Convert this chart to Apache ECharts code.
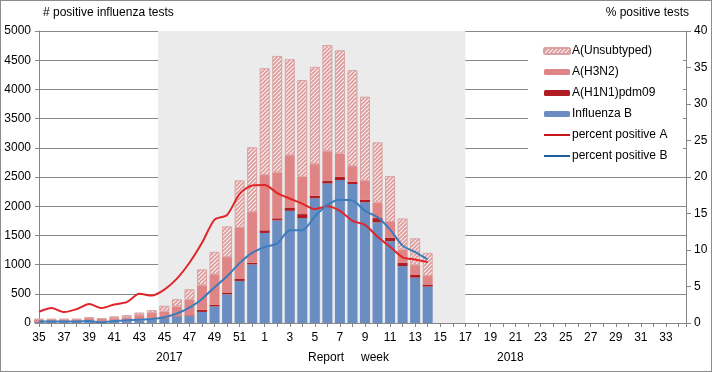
<!DOCTYPE html>
<html><head><meta charset="utf-8">
<script src="https://cdn.jsdelivr.net/npm/echarts@6/dist/echarts.min.js"></script>
<style>html,body{margin:0;padding:0;background:#fff}#c{width:712px;height:372px;box-sizing:border-box;border:1px solid #8c8c8c}</style>
</head><body><div id="c"></div>
<script>
const weeks = ['35','36','37','38','39','40','41','42','43','44','45','46','47','48','49','50','51','52',
 '1','2','3','4','5','6','7','8','9','10','11','12','13','14','15','16','17','18','19','20','21','22','23','24','25','26','27','28','29','30','31','32','33','34'];
const fluB  = [15,15,15,15,20,18,25,30,35,55,80,108,118,190,284,493,720,1003,1542,1757,1921,1797,2136,2391,2448,2380,2068,1722,1400,974,777,624];
const h1n1  = [3,3,2,3,3,2,3,3,5,5,8,8,12,35,30,30,40,30,45,35,57,68,45,40,57,40,45,74,62,57,45,34];
const h3n2  = [40,40,43,42,60,50,55,65,95,110,105,168,267,421,519,605,867,866,946,787,895,639,539,510,397,266,318,266,267,227,169,146];
const unsub = [12,12,10,10,17,10,32,37,45,50,102,124,181,272,385,527,816,1110,1830,1994,1644,1656,1666,1819,1768,1644,1445,1032,787,532,459,398];
const pctA  = [1.54,2.04,1.5,1.9,2.6,2.04,2.54,2.86,4.0,3.76,4.58,6.08,8.25,10.98,14.15,14.8,17.7,18.85,18.9,17.8,17.05,16.35,15.6,15.98,15.35,14.0,13.45,11.8,10.45,9.0,8.7,8.35];
const pctB  = [0.2,0.2,0.2,0.2,0.27,0.1,0.27,0.36,0.45,0.54,0.8,1.3,2.1,3.3,4.9,6.4,8.2,9.6,10.4,10.9,12.7,12.7,14.6,16.2,16.9,16.8,15.35,14.5,12.8,10.6,9.7,8.7];
const leftTicks = {min:0, max:5000, interval:500};
const rightTicks = {min:0, max:40, interval:5};
const seasonStart = 9.5, seasonEnd = 34; // shaded season (week 44/45 to week 17)

const pc = document.createElement('canvas');
pc.width = 4; pc.height = 4;
const g = pc.getContext('2d');
g.fillStyle = '#fdf4f4'; g.fillRect(0,0,4,4);
g.strokeStyle = '#dd9a9a'; g.lineWidth = 1.7;
g.beginPath();
g.moveTo(0,4); g.lineTo(4,0);
g.moveTo(-1,1); g.lineTo(1,-1);
g.moveTo(3,5); g.lineTo(5,3);
g.stroke();

const W = 712, L = 38, R = 25, XMAX = 51.6;
const unit = (W - L - R) / XMAX;
const barGridRight = W - (L + (weeks.length - 1) * unit);

const pairs = arr => arr.map((v,i)=>[i,v]);
const FONT = 'Liberation Sans, Arial, sans-serif';
const chart = echarts.init(document.getElementById('c'));
const barBase = {type:'bar', stack:'n', barWidth:10, xAxisIndex:1, yAxisIndex:2};
const linePath = 'path://M0,0L26,0L26,2L0,2Z';
chart.setOption({
  animation:false,
  textStyle:{fontFamily:FONT, color:'#000'},
  grid:[{left:L, right:R, top:30, bottom:48}, {left:L, right:barGridRight, top:30, bottom:48}],
  xAxis:[{type:'value', gridIndex:0, min:0, max:XMAX, interval:1,
    axisLine:{lineStyle:{color:'#868686'}},
    axisTick:{length:4, lineStyle:{color:'#868686'}},
    splitLine:{show:false},
    axisLabel:{fontSize:12, color:'#000', margin:9, fontFamily:FONT,
      formatter:v=> (Number.isInteger(v) && v%2===0 && weeks[v]) ? weeks[v] : ''}},
    {type:'category', gridIndex:1, data:weeks, boundaryGap:false, show:false}],
  yAxis:[
    {type:'value', gridIndex:0, min:leftTicks.min, max:leftTicks.max, interval:leftTicks.interval,
      axisLine:{show:true, lineStyle:{color:'#868686'}},
      axisTick:{show:true, length:4, lineStyle:{color:'#868686'}},
      splitLine:{lineStyle:{color:'#888', width:1}},
      axisLabel:{fontSize:12, color:'#000', margin:8, fontFamily:FONT, formatter:v=>String(v)}},
    {type:'value', gridIndex:0, min:rightTicks.min, max:rightTicks.max, interval:rightTicks.interval, position:'right',
      axisLine:{show:true, lineStyle:{color:'#868686'}},
      axisTick:{show:true, length:5, lineStyle:{color:'#868686'}},
      splitLine:{show:false},
      axisLabel:{fontSize:12, color:'#000', margin:8, fontFamily:FONT}},
    {type:'value', gridIndex:1, min:leftTicks.min, max:leftTicks.max, show:false, splitLine:{show:false}}
  ],
  legend:{orient:'vertical', left:537, top:39, itemWidth:26, itemHeight:6, itemGap:9,
    textStyle:{fontSize:12, fontFamily:FONT, color:'#000', padding:[0,0,0,-3]},
    data:['A(Unsubtyped)','A(H3N2)','A(H1N1)pdm09','Influenza B',
      {name:'percent positive A', icon:linePath}, {name:'percent positive B', icon:linePath}]},
  graphic:[
    {type:'rect', z:1, silent:true, shape:{x:527, y:33, width:155, height:136}, style:{fill:'#fff'}},
    {type:'text', left:42, top:6, style:{text:'# positive influenza tests', font:'12px '+FONT, fill:'#000'}},
    {type:'text', right:22, top:6, style:{text:'% positive tests', font:'12px '+FONT, fill:'#000'}},
    {type:'text', left:307, top:351, style:{text:'Report', font:'12px '+FONT, fill:'#000'}},
    {type:'text', left:360, top:351, style:{text:'week', font:'12px '+FONT, fill:'#000'}},
    {type:'text', left:155, top:351, style:{text:'2017', font:'12px '+FONT, fill:'#000'}},
    {type:'text', left:496, top:351, style:{text:'2018', font:'12px '+FONT, fill:'#000'}}
  ],
  series:[
    {type:'line', z:-1, data:[], silent:true, xAxisIndex:0, yAxisIndex:0,
      markArea:{silent:true, itemStyle:{color:'#ebebeb'}, data:[[{xAxis:seasonStart},{xAxis:seasonEnd}]]}},
    Object.assign({name:'Influenza B', data:fluB, itemStyle:{color:'#6b8ec2'}}, barBase),
    Object.assign({name:'A(H1N1)pdm09', data:h1n1, itemStyle:{color:'#b01c22'}}, barBase),
    Object.assign({name:'A(H3N2)', data:h3n2, itemStyle:{color:'#df8585'}}, barBase),
    Object.assign({name:'A(Unsubtyped)', data:unsub, itemStyle:{color:{image:pc, repeat:'repeat'}, borderColor:'#d9a3a3', borderWidth:1}}, barBase),
    {name:'percent positive A', type:'line', xAxisIndex:0, yAxisIndex:1, data:pairs(pctA), symbol:'none', smooth:0.25, z:5,
      lineStyle:{color:'#e0262a', width:2}, itemStyle:{color:'#c8151b'}},
    {name:'percent positive B', type:'line', xAxisIndex:0, yAxisIndex:1, data:pairs(pctB), symbol:'none', smooth:0.25, z:5,
      lineStyle:{color:'#3a7cbd', width:2}, itemStyle:{color:'#1f5f9f'}}
  ]
});
</script></body></html>
